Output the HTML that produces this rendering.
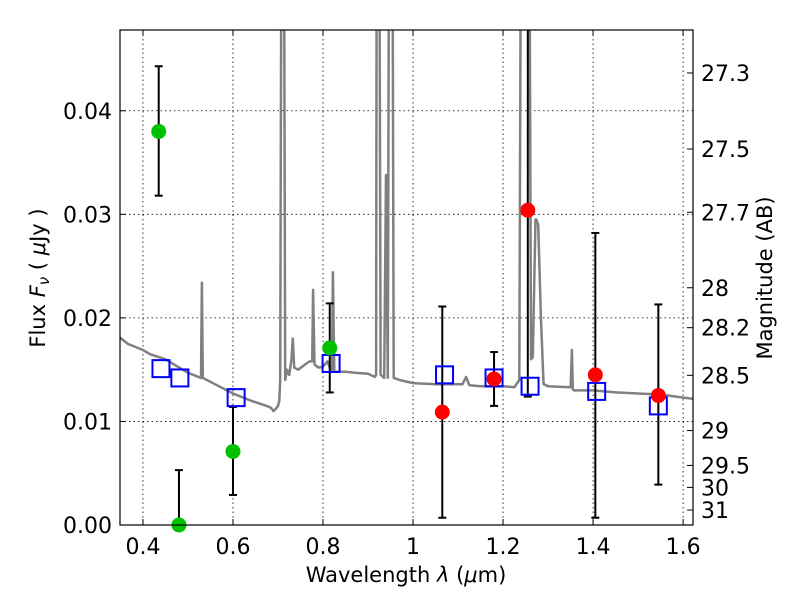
<!DOCTYPE html>
<html><head><meta charset="utf-8"><style>
body{margin:0;background:#fff}
svg{font-family:"DejaVu Sans","Liberation Sans",sans-serif}
</style></head><body>
<svg id="chart" width="800" height="600" xmlns="http://www.w3.org/2000/svg">
<defs><clipPath id="clip"><rect x="120" y="30" width="573" height="495"/></clipPath></defs>
<g id="grid"></g>
<g id="spec" clip-path="url(#clip)"></g>
<g id="marks" clip-path="url(#clip2)"></g>
<rect x="120" y="30" width="573" height="495" fill="none" stroke="#000" stroke-width="1.2"/>
<g id="axes"></g>
<text x="406" y="582" font-size="21" text-anchor="middle">Wavelength  <tspan font-style="italic">λ</tspan> (<tspan font-style="italic">μ</tspan>m)</text>
<text transform="translate(45,278) rotate(-90)" font-size="21" text-anchor="middle">Flux  <tspan font-style="italic">F<tspan font-size="15" dy="4">ν</tspan></tspan><tspan dy="-4">  (  </tspan><tspan font-style="italic">μ</tspan>Jy )</text>
<text transform="translate(772,278) rotate(-90)" font-size="21" text-anchor="middle">Magnitude (AB)</text>
</svg>
<script>
const xTicks=[0.4,0.6,0.8,1.0,1.2,1.4,1.6];
const xTickLabels=["0.4","0.6","0.8","1","1.2","1.4","1.6"];
const yTicks=[0,0.01,0.02,0.03,0.04];
const yTickLabels=["0.00","0.01","0.02","0.03","0.04"];
const magTicks=[27.3,27.5,27.7,28,28.2,28.5,29,29.5,30,31];
const specWl=[
0.349,0.366,0.4,0.415,0.45,0.5,
0.529,0.531,0.533,0.56,0.6,0.64,
0.675,0.685,0.69,0.695,0.7,0.703,
0.705,0.709,0.712,0.716,0.72,0.725,
0.73,0.733,0.736,0.745,0.76,0.77,
0.776,0.778,0.781,0.79,0.8,0.81,
0.815,0.82,0.822,0.825,0.85,0.87,
0.9,0.915,0.918,0.92,0.924,0.928,
0.936,0.94,0.944,0.948,0.953,0.957,
0.97,1.0,1.05,1.11,1.118,1.125,
1.15,1.2,1.225,1.236,1.242,1.256,
1.262,1.266,1.272,1.274,1.278,1.284,
1.29,1.3,1.35,1.353,1.355,1.358,
1.4,1.45,1.5,1.55,1.6,1.622];
const specFlux=[
0.0181,0.0175,0.0169,0.0165,0.016,0.0147,
0.0142,0.0234,0.0142,0.0136,0.0127,0.012,
0.0115,0.0113,0.0110,0.0112,0.0115,0.012,
0.014,0.08,0.08,0.014,0.015,0.0145,
0.016,0.018,0.0152,0.015,0.0155,0.0158,
0.0158,0.0227,0.0155,0.0152,0.0153,0.0158,
0.0152,0.015,0.0244,0.0148,0.0148,0.0147,
0.0146,0.0143,0.0145,0.08,0.08,0.0145,
0.0142,0.0338,0.0142,0.08,0.08,0.0142,
0.014,0.0137,0.0136,0.0136,0.0143,0.0135,
0.0134,0.0134,0.0133,0.014,0.09,0.09,
0.016,0.0162,0.0295,0.0295,0.029,0.02,
0.0136,0.0134,0.0133,0.0169,0.0131,0.013,
0.013,0.0128,0.0127,0.0126,0.0123,0.0122];
const greenWl=[0.435,0.48,0.6,0.815];
const greenFlux=[0.038,0.0,0.0071,0.0171];
const greenLo=[0.0318,0.0,0.0029,0.0128];
const greenHi=[0.0443,0.0053,0.0114,0.0214];
const redWl=[1.065,1.18,1.255,1.405,1.545];
const redFlux=[0.0109,0.0141,0.0304,0.0145,0.0125];
const redLo=[0.0007,0.0115,0.0124,0.0007,0.0039];
const redHi=[0.0211,0.0167,0.06,0.0282,0.0213];
const modelWl=[0.44,0.482,0.607,0.818,1.07,1.18,1.26,1.408,1.545];
const modelFlux=[0.0151,0.0142,0.0123,0.0156,0.0145,0.0142,0.0134,0.0129,0.0115];

const X0=120,X1=693,Y0=525,Y1=30,xmin=0.349,xmax=1.622,ymin=0,ymax=0.0478;
const sx=v=>X0+(v-xmin)/(xmax-xmin)*(X1-X0);
const sy=v=>Y0-(v-ymin)/(ymax-ymin)*(Y0-Y1);
const NS="http://www.w3.org/2000/svg";
function mk(tag,attrs,parent){const e=document.createElementNS(NS,tag);for(const k in attrs)e.setAttribute(k,attrs[k]);parent.appendChild(e);return e;}
const grid=document.getElementById('grid'),axes=document.getElementById('axes'),spec=document.getElementById('spec'),marks=document.getElementById('marks');
xTicks.forEach((t,i)=>{const x=sx(t);
 const g=mk('line',{x1:x,x2:x,y1:Y1,y2:Y0,stroke:'#000','stroke-width':0.8,'stroke-dasharray':'1.5,3'},grid);
 
 mk('line',{x1:x,x2:x,y1:Y0,y2:Y0-6,stroke:'#000'},axes);mk('line',{x1:x,x2:x,y1:Y1,y2:Y1+6,stroke:'#000'},axes);
 const l=mk('text',{x:x,y:554,'font-size':22,'text-anchor':'middle'},axes);l.textContent=xTickLabels[i];
 });
yTicks.forEach((t,i)=>{const y=sy(t);
 const g=mk('line',{x1:X0,x2:X1,y1:y,y2:y,stroke:'#000','stroke-width':0.8,'stroke-dasharray':'1.5,3'},grid);
 
 mk('line',{x1:X0,x2:X0+6,y1:y,y2:y,stroke:'#000'},axes);
 const l=mk('text',{x:112,y:y+8,'font-size':22,'text-anchor':'end'},axes);l.textContent=yTickLabels[i];
 });
magTicks.forEach(m=>{const f=Math.pow(10,(23.9-m)/2.5);const y=sy(f);
 mk('line',{x1:X1,x2:X1-6,y1:y,y2:y,stroke:'#000'},axes);
 const l=mk('text',{x:701,y:y+8,'font-size':22},axes);l.textContent=String(m);
 });
const pts=specWl.map((w,i)=>sx(w).toFixed(1)+','+sy(specFlux[i]).toFixed(1)).join(' ');
const pl=mk('polyline',{points:pts,fill:'none',stroke:'#808080','stroke-width':2.5,'stroke-linejoin':'round'},spec);

function err(w,lo,hi){const x=sx(w),y1=sy(lo),y2=Math.max(sy(hi),Y1);
 mk('line',{x1:x,x2:x,y1:y1,y2:y2,stroke:'#000','stroke-width':2},marks);
 mk('line',{x1:x-4,x2:x+4,y1:y1,y2:y1,stroke:'#000','stroke-width':2},marks);
 if(sy(hi)>Y1) mk('line',{x1:x-4,x2:x+4,y1:y2,y2:y2,stroke:'#000','stroke-width':2},marks);}
greenWl.forEach((w,i)=>err(w,greenLo[i],greenHi[i]));
redWl.forEach((w,i)=>err(w,redLo[i],redHi[i]));
modelWl.forEach((w,i)=>{const r=mk('rect',{x:sx(w)-8.5,y:sy(modelFlux[i])-8.5,width:17,height:17,fill:'none',stroke:'#0000ff','stroke-width':2},marks);
 });
greenWl.forEach((w,i)=>{const c=mk('circle',{cx:sx(w),cy:sy(greenFlux[i]),r:7.5,fill:'#00c000'},marks);
 });
redWl.forEach((w,i)=>{const c=mk('circle',{cx:sx(w),cy:sy(redFlux[i]),r:7.5,fill:'#ff0000'},marks);
 });
</script>
</body></html>
